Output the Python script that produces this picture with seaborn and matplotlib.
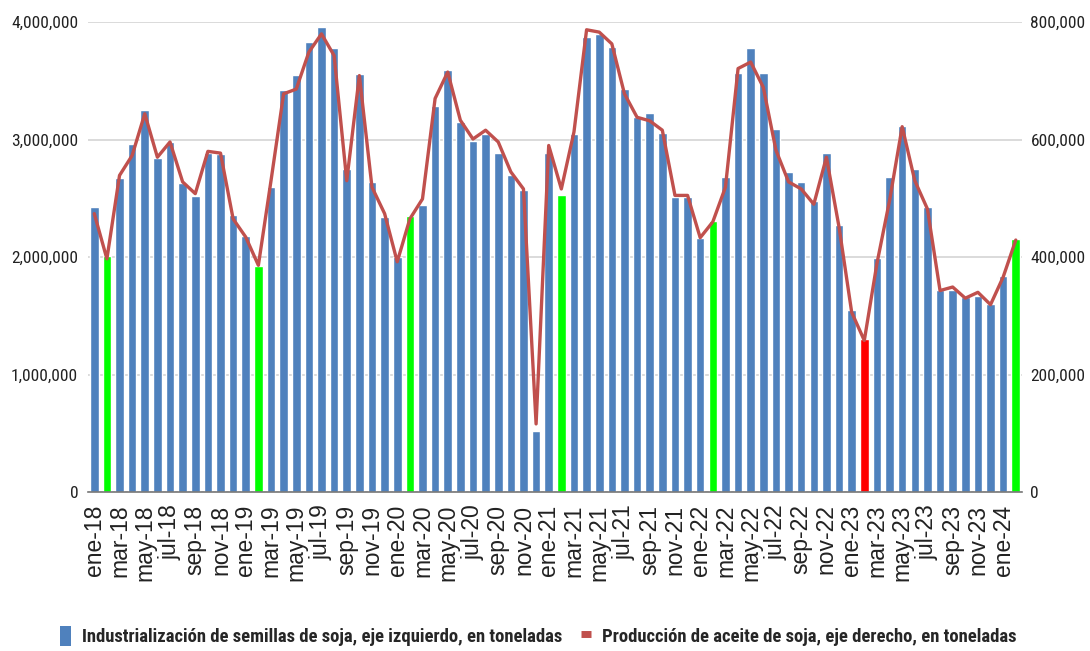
import matplotlib
matplotlib.use("Agg")
import matplotlib.pyplot as plt
import numpy as np
import pandas as pd
import seaborn as sns
from matplotlib.lines import Line2D
from matplotlib.patches import Patch
from matplotlib.ticker import FuncFormatter

# monthly data, ene-18 .. feb-24
meses = ["ene", "feb", "mar", "abr", "may", "jun", "jul", "ago", "sep", "oct", "nov", "dic"]
anios = ["18", "19", "20", "21", "22", "23", "24"]
etiquetas = [f"{m}-{a}" for a in anios for m in meses][:74]

# industrialización de semillas de soja (toneladas, eje izquierdo)
semillas = [
    2430000, 2010000, 2670000, 2960000, 3250000, 2840000, 2980000, 2630000, 2520000, 2890000, 2880000, 2360000,
    2180000, 1920000, 2600000, 3420000, 3550000, 3830000, 3960000, 3780000, 2750000, 3560000, 2640000, 2340000,
    2000000, 2350000, 2440000, 3290000, 3590000, 3150000, 2990000, 3050000, 2890000, 2700000, 2570000, 520000,
    2890000, 2530000, 3050000, 3870000, 3900000, 3790000, 3430000, 3190000, 3230000, 3060000, 2510000, 2510000,
    2160000, 2310000, 2680000, 3570000, 3780000, 3570000, 3090000, 2720000, 2640000, 2480000, 2890000, 2270000,
    1550000, 1300000, 1990000, 2680000, 3120000, 2750000, 2430000, 1720000, 1720000, 1660000, 1670000, 1600000,
    1840000, 2150000,
]

# producción de aceite de soja (toneladas, eje derecho)
aceite = [
    474000, 397000, 539000, 573000, 644000, 570000, 596000, 528000, 508000, 580000, 577000, 465000,
    434000, 386000, 530000, 678000, 686000, 749000, 780000, 743000, 530000, 709000, 519000, 474000,
    392000, 465000, 499000, 670000, 715000, 633000, 601000, 616000, 596000, 545000, 516000, 116000,
    590000, 516000, 613000, 787000, 783000, 763000, 678000, 638000, 632000, 616000, 505000, 505000,
    433000, 460000, 519000, 721000, 732000, 689000, 582000, 528000, 516000, 490000, 570000, 451000,
    306000, 258000, 389000, 496000, 622000, 530000, 482000, 343000, 349000, 330000, 340000, 319000,
    366000, 429000,
]

AZUL = "#4F81BD"
ROJO_LINEA = "#C0504D"

df = pd.DataFrame({"mes": etiquetas, "semillas": semillas, "aceite": aceite})
# febrero resaltado: verde, salvo feb-23 en rojo
colores = {}
for lab in etiquetas:
    if lab == "feb-23":
        colores[lab] = "#FF0000"
    elif lab.startswith("feb"):
        colores[lab] = "#00FF00"
    else:
        colores[lab] = AZUL

sns.set_theme(style="white")
plt.rcParams["font.family"] = ["Roboto Condensed", "DejaVu Sans"]

fig = plt.figure(figsize=(10.9, 6.51), dpi=100)
ax = fig.add_axes([0.0807, 0.2442, 0.857, 0.7218])

sns.barplot(data=df, x="mes", y="semillas", hue="mes", palette=colores, legend=False,
            width=0.68, saturation=1, ax=ax)
ax.set_xlim(-0.5, len(df) - 0.5)
ax.set_ylim(0, 4000000)
ax.set_yticks(np.arange(0, 4000001, 1000000))
ax.yaxis.set_major_formatter(FuncFormatter(lambda v, p: f"{v:,.0f}"))
ax.set_axisbelow(True)
ax.yaxis.grid(True, color="#d4d4d4", lw=1.2)
ax.set_xlabel("")
ax.set_ylabel("")
ax.set_xticks(range(0, len(df), 2))
ax.set_xticklabels(etiquetas[::2], rotation=90, fontsize=16.5, color="#222222",
                   family=["Liberation Sans", "DejaVu Sans"])
ax.tick_params(axis="x", length=0, pad=9)
ax.tick_params(axis="y", length=0, pad=7, labelsize=12.5, labelcolor="#222222")
for s in ["left", "right", "top"]:
    ax.spines[s].set_visible(False)
ax.spines["bottom"].set_color("#777777")
ax.spines["bottom"].set_linewidth(1.2)

ax2 = ax.twinx()
sns.lineplot(x=np.arange(len(df)), y=df["aceite"], ax=ax2, color=ROJO_LINEA, lw=2.4)
ax2.set_ylim(0, 800000)
ax2.set_yticks(np.arange(0, 800001, 200000))
ax2.yaxis.set_major_formatter(FuncFormatter(lambda v, p: f"{v:,.0f}"))
ax2.tick_params(axis="y", length=0, pad=6, labelsize=12.5, labelcolor="#222222")
ax2.set_ylabel("")
for s in ["left", "right", "top", "bottom"]:
    ax2.spines[s].set_visible(False)
ax2.grid(False)

handles = [
    Patch(facecolor=AZUL, edgecolor="none"),
    Line2D([0], [0], color=ROJO_LINEA, lw=5, solid_capstyle="butt"),
]
fig.legend(handles, ["Industrialización de semillas de soja, eje izquierdo, en toneladas",
                     "Producción de aceite de soja, eje derecho, en toneladas"],
           loc="center", bbox_to_anchor=(0.494, 1 - 636 / 651), ncol=2, frameon=False,
           prop={"family": "Roboto Condensed", "weight": "bold", "size": 13.4},
           handlelength=0.55, handleheight=1.3, handletextpad=0.6, columnspacing=1.0)

fig.savefig("out.png", dpi=100)
